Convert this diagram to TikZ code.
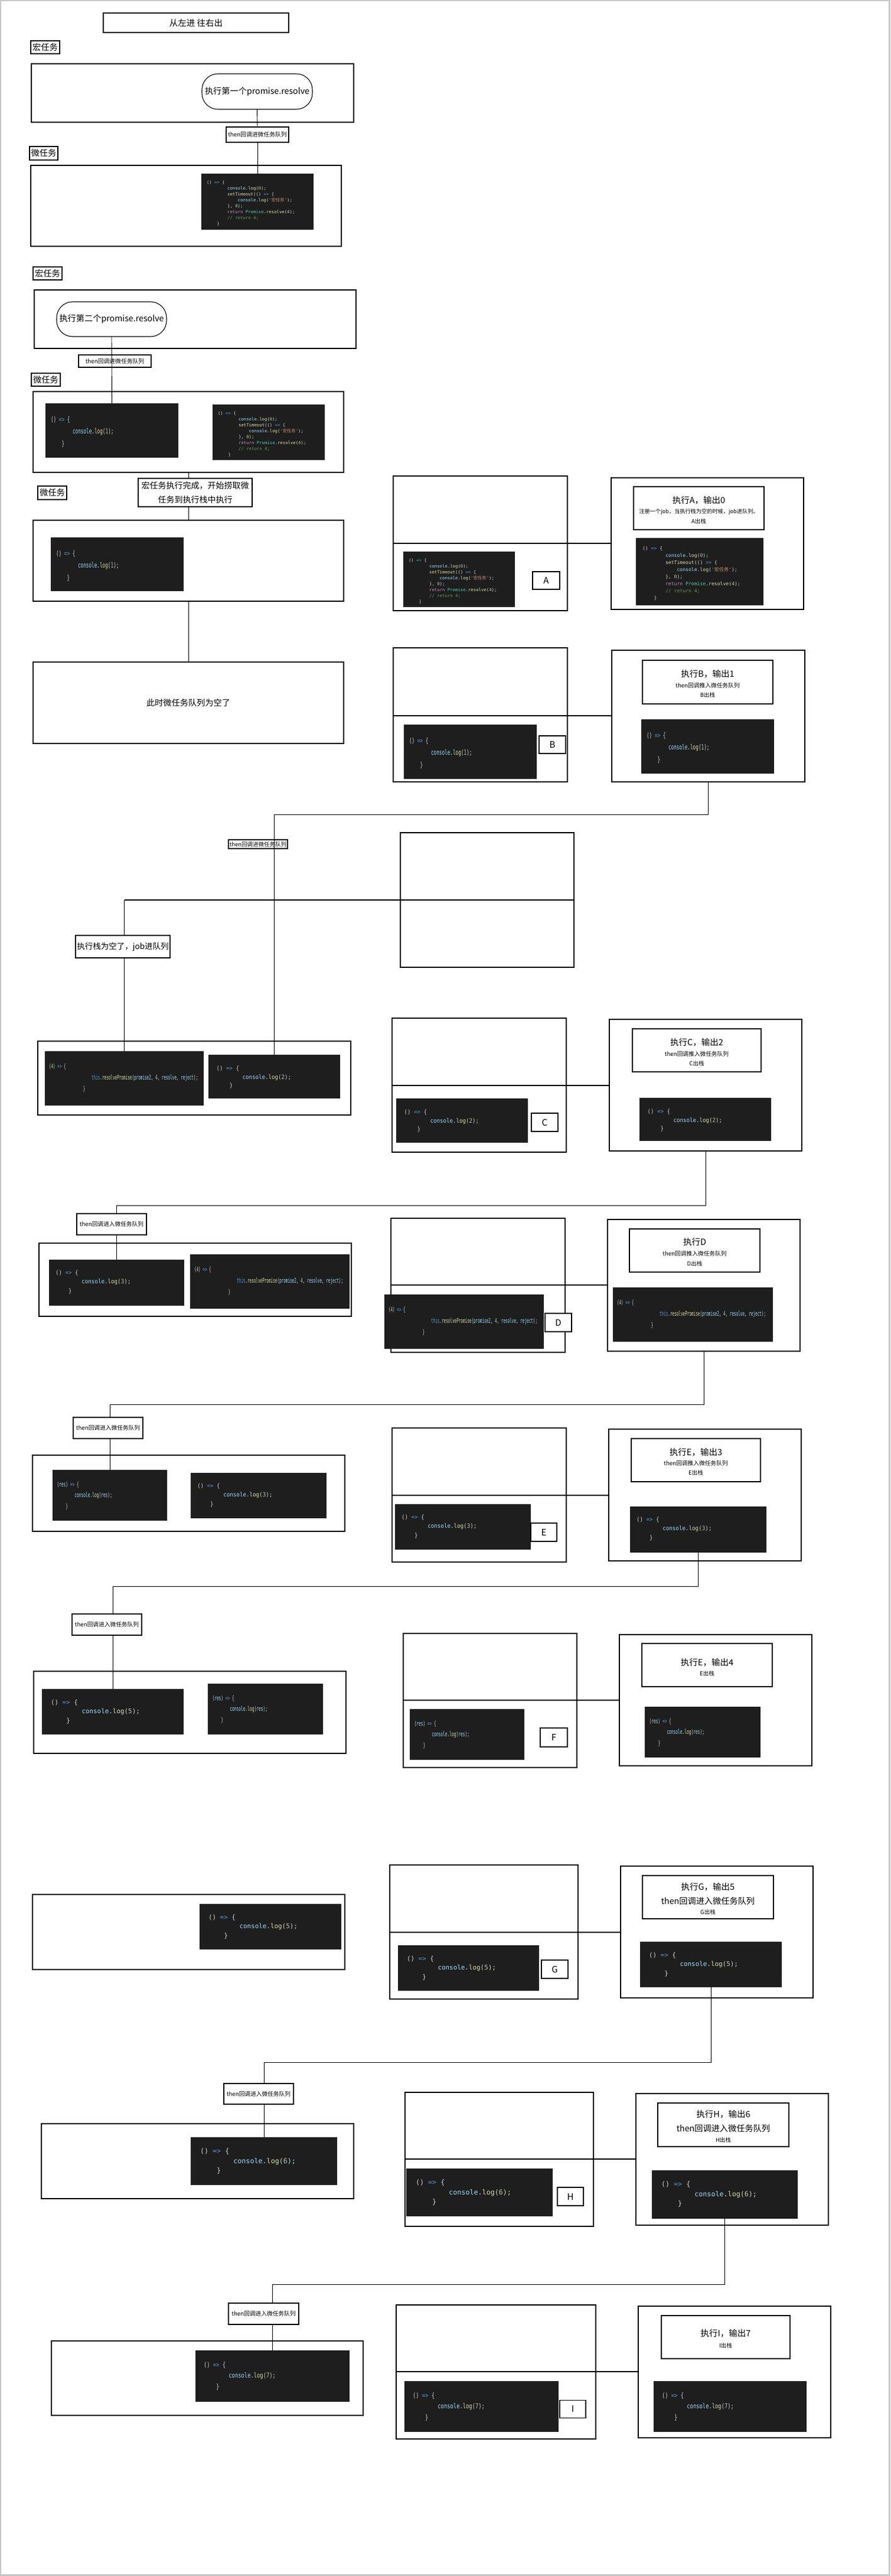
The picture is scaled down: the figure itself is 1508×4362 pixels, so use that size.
\documentclass[tikz,border=0pt]{standalone}
\usepackage{fontspec}
\usepackage{graphicx}
\setmainfont{Noto Sans CJK SC}
\setmonofont{DejaVu Sans Mono}
\newfontfamily\cjkfam{Noto Sans CJK SC}
\definecolor{codebgc}{HTML}{1E1E1E}
\definecolor{jsdef}{HTML}{D4D4D4}
\definecolor{jskw}{HTML}{569CD6}
\definecolor{jsvar}{HTML}{9CDCFE}
\definecolor{jsfn}{HTML}{DCDCAA}
\definecolor{jsnum}{HTML}{B5CEA8}
\definecolor{jsstr}{HTML}{CE9178}
\definecolor{jsret}{HTML}{C586C0}
\definecolor{jstype}{HTML}{4EC9B0}
\definecolor{jscom}{HTML}{6A9955}
\newcommand\jsK[1]{{\color{jskw}#1}}
\newcommand\jsV[1]{{\color{jsvar}#1}}
\newcommand\jsF[1]{{\color{jsfn}#1}}
\newcommand\jsN[1]{{\color{jsnum}#1}}
\newcommand\jsS[1]{{\color{jsstr}#1}}
\newcommand\jsR[1]{{\color{jsret}#1}}
\newcommand\jsT[1]{{\color{jstype}#1}}
\newcommand\jsC[1]{{\color{jscom}#1}}
\newcommand\cdind[1]{\kern#1\fontcharwd\font`0\relax}
\newcommand\fsz[1]{\fontsize{#1}{#1}\selectfont}
% code contents
\newcommand\longcode{%
\hbox{() \jsK{=>} \{}%
\hbox{\cdind{8}\jsV{console}.\jsF{log}(\jsN{0});}%
\hbox{\cdind{8}\jsF{setTimeout}(() \jsK{=>} \{}%
\hbox{\cdind{12}\jsV{console}.\jsF{log}(\jsS{'{\cjkfam 宏任务}'});}%
\hbox{\cdind{8}\}, \jsN{0});}%
\hbox{\cdind{8}\jsR{return} \jsT{Promise}.\jsF{resolve}(\jsN{4});}%
\hbox{\cdind{8}\jsC{// return 4;}}%
\hbox{\cdind{4}\}}}
\newcommand\logcode[1]{%
\hbox{() \jsK{=>} \{}%
\hbox{\cdind{8}\jsV{console}.\jsF{log}(\jsN{#1});}%
\hbox{\cdind{4}\}}}
\newcommand\rescode{%
\hbox{(\jsV{res}) \jsK{=>} \{}%
\hbox{\cdind{8}\jsV{console}.\jsF{log}(\jsV{res});}%
\hbox{\cdind{4}\}}}
\newcommand\fourcode{%
\hbox{(\jsN{4}) \jsK{=>} \{}%
\hbox{\cdind{20}\jsK{this}.\jsF{resolvePromise}(\jsV{promise2}, \jsN{4}, \jsV{resolve}, \jsV{reject});}%
\hbox{\cdind{16}\}}}
% code types: font size, x-scale, line skip, pad x, first line centre
\newcommand\ctype[5]{\def\cdF{#1}\def\cdS{#2}\def\cdL{#3}\def\cdX{#4}\def\cdY{#5}}
\newcommand\typeZero{\ctype{7.3}{1}{10}{9}{15}}
\newcommand\typeZeroBig{\ctype{8.1}{1}{12}{11}{18}}
\newcommand\typeOne{\ctype{12}{0.641}{20.3}{9}{28}}
\newcommand\typeTwo{\ctype{10}{0.914}{14.5}{13.5}{23.5}}
\newcommand\typeThree{\ctype{10}{0.92}{15.8}{11}{22}}
\newcommand\typeFour{\ctype{11}{0.544}{19}{7}{26}}
\newcommand\typeRes{\ctype{11}{0.566}{18.5}{7.5}{25}}
\newcommand\typeFive{\ctype{10.9}{1}{15.5}{15}{23}}
\newcommand\typeSix{\ctype{11.7}{1}{16.7}{16}{24}}
\newcommand\typeSeven{\ctype{11.5}{0.766}{18.3}{14}{25}}
\newcommand\boxat[6]{%
  \pgfmathsetmacro\bw{#4-#2}\pgfmathsetmacro\bh{#5-#3}%
  \pgfmathsetmacro\bcx{(#2+#4)/2}\pgfmathsetmacro\bcy{(#3+#5)/2}%
  \node[#6, minimum width=\bw pt, minimum height=\bh pt] (#1) at (\bcx,\bcy)}
\newcommand\codeblk[7]{%
  #6%
  \pgfmathsetmacro\bw{#4-#2}\pgfmathsetmacro\bh{#5-#3}%
  \pgfmathsetmacro\bcx{(#2+#4)/2}\pgfmathsetmacro\bcy{(#3+#5)/2}%
  \node[codebox, minimum width=\bw pt, minimum height=\bh pt] (#1) at (\bcx,\bcy) {};%
  \pgfmathsetmacro\cdtx{#2+\cdX}\pgfmathsetmacro\cdty{#3+\cdY+0.3*\cdF}%
  \node[codetext] (#1-t) at (\cdtx,\cdty) {\ttfamily\fontsize{\cdF}{\cdL}\selectfont\scalebox{\cdS}[1]{\vtop{#7}}};%
}
\newcommand\linetxt[5]{\node[inner sep=0pt, outer sep=0pt, font=\fsz{#4}] (#1) at (#2,#3) {#5};}
\begin{document}
\begin{tikzpicture}[x=1pt, y=-1pt,
  cont/.style={draw=black, line width=1.3pt, inner sep=0pt, outer sep=0pt},
  lab/.style={draw=black, fill=white, line width=1.1pt, inner sep=0pt, outer sep=0pt},
  codebox/.style={fill=codebgc, draw=none, inner sep=0pt, outer sep=0pt},
  codetext/.style={anchor=base west, inner sep=0pt, outer sep=0pt, text=jsdef},
  conn/.style={draw=black, line width=0.9pt},
  divline/.style={draw=black, line width=1.2pt},
  pageframe/.style={draw=black!22, line width=2.5pt}]
\useasboundingbox (0,0) rectangle (1508,4362);
\draw[pageframe] (1.2,1.2) rectangle (1506.5,4360.5);

% ---------- section 1
\boxat{title}{175}{22}{489}{55}{lab, line width=1.3pt, font=\fsz{14.5}}{从左进 往右出};
\boxat{lm1}{52}{69}{101}{91}{lab, font=\fsz{14.3}}{宏任务};
\boxat{macro1}{53}{108}{599}{207}{cont}{};
\boxat{node1}{342}{125}{529}{185}{lab, rounded corners=27pt, font=\fsz{14.2}}{执行第一个promise.resolve};
\boxat{then1}{383}{215}{489}{241}{lab, font=\fsz{9.8}}{then回调进微任务队列};
\boxat{lu1}{50}{248}{98}{271}{lab, font=\fsz{14.3}}{微任务};
\boxat{micro1}{52}{280}{578}{417}{cont}{};
\codeblk{code0a}{341}{294}{531}{389}{\typeZero}{\longcode}
\draw[conn] (node1.south) -- (then1.north);
\draw[conn] (then1.south) -- (code0a.north);

% ---------- section 2
\boxat{lm2}{56}{452}{105}{474}{lab, font=\fsz{14.3}}{宏任务};
\boxat{macro2}{58}{491}{603}{590}{cont}{};
\boxat{node2}{96}{511}{282}{570}{lab, rounded corners=27pt, font=\fsz{14.2}}{执行第二个promise.resolve};
\boxat{then2}{133}{601}{256}{622}{lab, font=\fsz{9.8}}{then回调进微任务队列};
\boxat{lu2}{53}{632}{102}{654}{lab, font=\fsz{14.3}}{微任务};
\boxat{micro2}{56}{663}{582}{800}{cont}{};
\codeblk{code1a}{77}{683}{302}{775}{\typeOne}{\logcode{1}}
\codeblk{code0b}{360}{685}{550}{779}{\typeZero}{\longcode}
\draw[conn] (node2.south) -- (code1a.north);
\boxat{lblexec}{234}{810}{427}{858}{lab, font=\fontsize{14}{24.5}\selectfont, align=center}{宏任务执行完成，开始捞取微\\任务到执行栈中执行};
\boxat{lu3}{64}{823}{113}{846}{lab, font=\fsz{14.3}}{微任务};
\boxat{micro3}{56}{881}{582}{1018}{cont}{};
\codeblk{code1b}{86}{910}{311}{1001}{\typeOne}{\logcode{1}}
\boxat{emptyq}{56}{1121}{582}{1259}{cont, font=\fsz{14.2}}{此时微任务队列为空了};
\draw[conn] (micro2.south) -- (micro2.south |- lblexec.north);
\draw[conn] (lblexec.south -| micro3.north) -- (micro3.north);
\draw[conn] (micro3.south) -- (emptyq.north);

% ---------- A
\boxat{Aleft}{666}{806}{961}{1034}{cont}{};
\codeblk{codeA}{683}{934}{872}{1028}{\typeZero}{\longcode}
\boxat{lblA}{902}{968}{948}{998}{lab, font=\fsz{15}}{A};
\boxat{Aright}{1035}{809}{1361}{1032}{cont}{};
\boxat{Atext}{1073}{824}{1294}{897}{cont}{};
\linetxt{At1}{1183.5}{847}{14.5}{执行A，输出0}
\linetxt{At2}{1183.5}{867}{9.2}{注册一个job，当执行栈为空的时候，job进队列。}
\linetxt{At3}{1183.5}{883}{9.5}{A出栈}
\codeblk{codeAr}{1077}{911}{1293}{1025}{\typeZeroBig}{\longcode}
\coordinate (Adiv) at (666,920);
\draw[divline] (Adiv) -- (Adiv -| Aright.west);

% ---------- B
\boxat{Bleft}{666}{1097}{961}{1324}{cont}{};
\codeblk{codeB}{684}{1227}{909}{1319}{\typeOne}{\logcode{1}}
\boxat{lblB}{913}{1246}{958}{1276}{lab, font=\fsz{15}}{B};
\boxat{Bright}{1036}{1101}{1363}{1324}{cont}{};
\boxat{Btext}{1088}{1118}{1309}{1192}{cont}{};
\linetxt{Bt1}{1198.5}{1141}{14.5}{执行B，输出1}
\linetxt{Bt2}{1198.5}{1161}{9.7}{then回调推入微任务队列}
\linetxt{Bt3}{1198.5}{1177}{9.5}{B出栈}
\codeblk{codeBr}{1086}{1218}{1311}{1310}{\typeOne}{\logcode{1}}
\coordinate (Bdiv) at (666,1212);
\draw[divline] (Bdiv) -- (Bdiv -| Bright.west);

% ---------- stack 1
\boxat{then3}{387}{1422}{487}{1437}{lab, font=\fsz{9.5}}{then回调进微任务队列};
\boxat{EB}{678}{1410}{972}{1638}{cont}{};
\boxat{stack1}{64}{1763}{594}{1888}{cont}{};
\codeblk{code4a}{76}{1780}{345}{1872}{\typeFour}{\fourcode}
\codeblk{code2a}{353}{1786}{576}{1860}{\typeTwo}{\logcode{2}}
\coordinate (yB) at (0,1379);
\coordinate (jB) at (code2a.north |- yB);
\draw[conn] (Bright.south) |- (jB) -- (code2a.north);
\coordinate (yS) at (0,1524);
\coordinate (EBd) at (EB.east |- yS);
\coordinate (jS) at (code4a.north |- yS);
\boxat{lblstack}{128}{1584}{288}{1622}{lab, font=\fsz{13.5}}{执行栈为空了，job进队列};
\draw[divline] (EBd) -- (jS);
\draw[conn] (jS) -- (jS |- lblstack.north);
\draw[conn] (lblstack.south -| jS) -- (code4a.north);

% ---------- C
\boxat{Cleft}{664}{1724}{959}{1951}{cont}{};
\codeblk{codeC}{671}{1860}{894}{1935}{\typeTwo}{\logcode{2}}
\boxat{lblC}{900}{1885}{945}{1916}{lab, font=\fsz{15}}{C};
\boxat{Cright}{1032}{1726}{1358}{1949}{cont}{};
\boxat{Ctext}{1071}{1742}{1289}{1815}{cont}{};
\linetxt{Ct1}{1180}{1765}{14.5}{执行C，输出2}
\linetxt{Ct2}{1180}{1785}{9.7}{then回调推入微任务队列}
\linetxt{Ct3}{1180}{1801}{9.5}{C出栈}
\codeblk{codeCr}{1083}{1859}{1306}{1932}{\typeTwo}{\logcode{2}}
\coordinate (Cdiv) at (664,1838);
\draw[divline] (Cdiv) -- (Cdiv -| Cright.west);

% ---------- stack 2
\boxat{then4}{130}{2055}{248}{2091}{lab, font=\fsz{9.7}}{then回调进入微任务队列};
\boxat{stack2}{66}{2105}{595}{2229}{cont}{};
\codeblk{code3a}{83}{2133}{312}{2211}{\typeThree}{\logcode{3}}
\codeblk{code4b}{322}{2124}{592}{2216}{\typeFour}{\fourcode}
\coordinate (yC) at (0,2041);
\coordinate (jC) at (code3a.north |- yC);
\draw[conn] (Cright.south) |- (jC) -- (jC |- then4.north);
\draw[conn] (then4.south -| jC) -- (code3a.north);

% ---------- D
\boxat{Dleft}{662}{2063}{957}{2290}{cont}{};
\codeblk{codeD}{651}{2192}{921}{2284}{\typeFour}{\fourcode}
\boxat{lblD}{923}{2224}{968}{2255}{lab, font=\fsz{15}}{D};
\boxat{Dright}{1029}{2065}{1355}{2288}{cont}{};
\boxat{Dtext}{1066}{2081}{1287}{2154}{cont}{};
\linetxt{Dt1}{1176.5}{2103}{14.5}{执行D}
\linetxt{Dt2}{1176.5}{2123}{9.7}{then回调推入微任务队列}
\linetxt{Dt3}{1176.5}{2140}{9.5}{D出栈}
\codeblk{codeDr}{1038}{2180}{1309}{2272}{\typeFour}{\fourcode}
\coordinate (Ddiv) at (662,2176);
\draw[divline] (Ddiv) -- (Ddiv -| Dright.west);

% ---------- stack 3
\boxat{then5}{124}{2400}{242}{2436}{lab, font=\fsz{9.7}}{then回调进入微任务队列};
\boxat{stack3}{55}{2464}{584}{2593}{cont}{};
\codeblk{coderes1}{89}{2489}{283}{2575}{\typeRes}{\rescode}
\codeblk{code3b}{323}{2494}{553}{2571}{\typeThree}{\logcode{3}}
\coordinate (yD) at (0,2378);
\coordinate (jD) at (coderes1.north |- yD);
\draw[conn] (Dright.south) |- (jD) -- (jD |- then5.north);
\draw[conn] (then5.south -| jD) -- (coderes1.north);

% ---------- E
\boxat{Eleft}{664}{2418}{959}{2645}{cont}{};
\codeblk{codeE}{669}{2547}{899}{2624}{\typeThree}{\logcode{3}}
\boxat{lblE}{899}{2579}{943}{2610}{lab, font=\fsz{15}}{E};
\boxat{Eright}{1031}{2420}{1357}{2643}{cont}{};
\boxat{Etext}{1069}{2436}{1288}{2509}{cont}{};
\linetxt{Et1}{1178.5}{2459}{14.5}{执行E，输出3}
\linetxt{Et2}{1178.5}{2478}{9.7}{then回调推入微任务队列}
\linetxt{Et3}{1178.5}{2494}{9.5}{E出栈}
\codeblk{codeEr}{1067}{2551}{1298}{2629}{\typeThree}{\logcode{3}}
\coordinate (Ediv) at (664,2532);
\draw[divline] (Ediv) -- (Ediv -| Eright.west);

% ---------- stack 4
\boxat{then6}{122}{2733}{240}{2769}{lab, font=\fsz{9.7}}{then回调进入微任务队列};
\boxat{stack4}{57}{2830}{586}{2969}{cont}{};
\codeblk{code5a}{71}{2860}{311}{2937}{\typeFive}{\logcode{5}}
\codeblk{coderes2}{352}{2851}{547}{2937}{\typeRes}{\rescode}
\coordinate (yE) at (0,2686);
\coordinate (jE) at (code5a.north |- yE);
\draw[conn] (codeEr.south) |- (jE) -- (jE |- then6.north);
\draw[conn] (then6.south -| jE) -- (code5a.north);

% ---------- F
\boxat{Fleft}{683}{2766}{977}{2993}{cont}{};
\codeblk{codeF}{694}{2894}{888}{2980}{\typeRes}{\rescode}
\boxat{lblF}{915}{2926}{961}{2958}{lab, font=\fsz{15}}{F};
\boxat{Fright}{1049}{2768}{1375}{2990}{cont}{};
\boxat{Ftext}{1087}{2783}{1308}{2856}{cont}{};
\linetxt{Ft1}{1197.5}{2815}{14.5}{执行E，输出4}
\linetxt{Ft2}{1197.5}{2834}{9.5}{E出栈}
\codeblk{codeFr}{1092}{2890}{1288}{2976}{\typeRes}{\rescode}
\coordinate (Fdiv) at (683,2879);
\draw[divline] (Fdiv) -- (Fdiv -| Fright.west);

% ---------- G
\boxat{stack5}{55}{3208}{584}{3335}{cont}{};
\codeblk{code5b}{338}{3224}{578}{3301}{\typeFive}{\logcode{5}}
\boxat{Gleft}{660}{3158}{979}{3385}{cont}{};
\codeblk{codeG}{674}{3294}{913}{3371}{\typeFive}{\logcode{5}}
\boxat{lblG}{917}{3319}{962}{3350}{lab, font=\fsz{15}}{G};
\boxat{Gright}{1051}{3160}{1377}{3383}{cont}{};
\boxat{Gtext}{1088}{3176}{1310}{3249}{cont}{};
\linetxt{Gt1}{1199}{3195}{14.5}{执行G，输出5}
\linetxt{Gt2}{1199}{3219}{14.2}{then回调进入微任务队列}
\linetxt{Gt3}{1199}{3238}{9.5}{G出栈}
\codeblk{codeGr}{1084}{3288}{1324}{3365}{\typeFive}{\logcode{5}}
\coordinate (Gdiv) at (660,3272);
\draw[divline] (Gdiv) -- (Gdiv -| Gright.west);

% ---------- stack 6
\boxat{then7}{379}{3528}{497}{3563}{lab, font=\fsz{9.7}}{then回调进入微任务队列};
\boxat{stack6}{70}{3596}{599}{3723}{cont}{};
\codeblk{code6a}{323}{3619}{571}{3700}{\typeSix}{\logcode{6}}
\coordinate (yG) at (0,3492);
\coordinate (jG) at (code6a.north |- yG);
\draw[conn] (codeGr.south) |- (jG) -- (jG |- then7.north);
\draw[conn] (then7.south -| jG) -- (code6a.north);

% ---------- H
\boxat{Hleft}{686}{3543}{1005}{3770}{cont}{};
\codeblk{codeH}{688}{3672}{936}{3753}{\typeSix}{\logcode{6}}
\boxat{lblH}{944}{3704}{988}{3735}{lab, font=\fsz{15}}{H};
\boxat{Hright}{1077}{3545}{1403}{3768}{cont}{};
\boxat{Htext}{1114}{3561}{1336}{3635}{cont}{};
\linetxt{Ht1}{1225}{3580}{14.5}{执行H，输出6}
\linetxt{Ht2}{1225}{3604}{14.2}{then回调进入微任务队列}
\linetxt{Ht3}{1225}{3624}{9.5}{H出栈}
\codeblk{codeHr}{1104}{3675}{1351}{3757}{\typeSix}{\logcode{6}}
\coordinate (Hdiv) at (686,3656);
\draw[divline] (Hdiv) -- (Hdiv -| Hright.west);

% ---------- stack 7
\boxat{then8}{387}{3900}{506}{3936}{lab, font=\fsz{9.7}}{then回调进入微任务队列};
\boxat{stack7}{87}{3964}{615}{4090}{cont}{};
\codeblk{code7a}{331}{3980}{592}{4067}{\typeSeven}{\logcode{7}}
\coordinate (yH) at (0,3868);
\coordinate (jH) at (code7a.north |- yH);
\draw[conn] (codeHr.south) |- (jH) -- (jH |- then8.north);
\draw[conn] (then8.south -| jH) -- (code7a.north);

% ---------- I
\boxat{Ileft}{671}{3903}{1009}{4130}{cont}{};
\codeblk{codeI}{685}{4032}{946}{4118}{\typeSeven}{\logcode{7}}
\boxat{lblI}{948}{4064}{992}{4094}{lab, font=\fsz{15}}{I};
\boxat{Iright}{1081}{3905}{1407}{4128}{cont}{};
\boxat{Itext}{1120}{3921}{1338}{3994}{cont}{};
\linetxt{It1}{1229}{3951}{14.5}{执行I，输出7}
\linetxt{It2}{1229}{3972}{9.5}{I出栈}
\codeblk{codeIr}{1107}{4032}{1366}{4118}{\typeSeven}{\logcode{7}}
\coordinate (Idiv) at (671,4016);
\draw[divline] (Idiv) -- (Idiv -| Iright.west);
\end{tikzpicture}
\end{document}
